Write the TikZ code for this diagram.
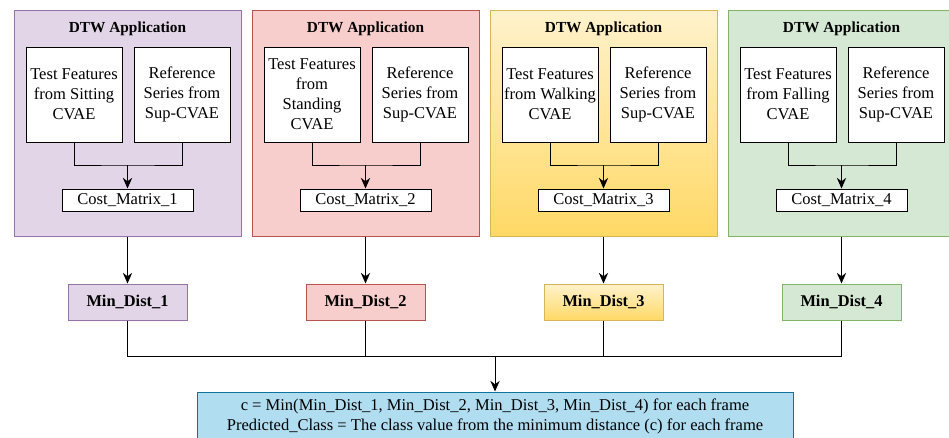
\documentclass[tikz,border=0pt]{standalone}
\usepackage{fontspec}
\setmainfont{Liberation Serif}
\usetikzlibrary{positioning,arrows.meta}
\definecolor{purpleFill}{HTML}{E1D5E7}
\definecolor{purpleLine}{HTML}{9673A6}
\definecolor{redFill}{HTML}{F8CECC}
\definecolor{redLine}{HTML}{B85450}
\definecolor{yellowTop}{HTML}{FFF2CC}
\definecolor{yellowBot}{HTML}{FFD966}
\definecolor{yellowLine}{HTML}{D6B656}
\definecolor{greenFill}{HTML}{D5E8D4}
\definecolor{greenLine}{HTML}{82B366}
\definecolor{blueFill}{HTML}{B1DDF0}
\definecolor{blueLine}{HTML}{10739E}
\tikzset{
 flow/.style={>={Stealth[length=8pt,width=7pt]},
   line width=0.75pt,
   x=0.75pt, y=-0.75pt},
 txt/.style={font=\fontsize{12.4}{15}\selectfont, align=center, inner sep=0pt},
 group/.style={rectangle, draw, line width=0.75pt, minimum width=170.25pt, minimum height=169.5pt},
 title/.style={txt, font=\fontsize{11.5}{14}\selectfont\bfseries},
 feature/.style={txt, rectangle, draw=black, fill=white, minimum width=72pt, minimum height=71.25pt},
 cost/.style={txt, rectangle, draw=black, fill=white, minimum width=98.25pt, minimum height=16.5pt},
 mindist/.style={txt, rectangle, draw, font=\fontsize{12.3}{15}\selectfont\bfseries, minimum width=89.25pt, minimum height=27pt},
 result/.style={txt, rectangle, draw=blueLine, fill=blueFill, minimum width=447pt, minimum height=36pt}}

\begin{document}
\begin{tikzpicture}[flow]
  \useasboundingbox (0,0) rectangle (949,437);
  \node[group, fill=purpleFill, draw=purpleLine] (g1) at (127.5,123) {};
  \node[group, fill=redFill, draw=redLine] (g2) at (365.5,123) {};
  \node[group, top color=yellowTop, bottom color=yellowBot, draw=yellowLine] (g3) at (603.5,123) {};
  \node[group, fill=greenFill, draw=greenLine] (g4) at (841.5,123) {};

  \node[title] (t1) at (127.5,29) {DTW Application};
  \node[title] (t2) at (365.5,29) {DTW Application};
  \node[title] (t3) at (603.5,29) {DTW Application};
  \node[title] (t4) at (841.5,29) {DTW Application};

  \node[feature] (tf1) at (74,94.5) {Test Features\\from Sitting\\CVAE};
  \node[feature] (rs1) [right=8.25pt of tf1] {Reference\\Series from\\Sup-CVAE};
  \node[feature] (tf2) at (312,94.5) {Test Features\\from\\Standing\\CVAE};
  \node[feature] (rs2) [right=8.25pt of tf2] {Reference\\Series from\\Sup-CVAE};
  \node[feature] (tf3) at (550,94.5) {Test Features\\from Walking\\CVAE};
  \node[feature] (rs3) [right=8.25pt of tf3] {Reference\\Series from\\Sup-CVAE};
  \node[feature] (tf4) at (788,94.5) {Test Features\\from Falling\\CVAE};
  \node[feature] (rs4) [right=8.25pt of tf4] {Reference\\Series from\\Sup-CVAE};

  \node[cost] (cm1) at (127.5,200) {Cost\_Matrix\_1};
  \node[cost] (cm2) at (365.5,200) {Cost\_Matrix\_2};
  \node[cost] (cm3) at (603.5,200) {Cost\_Matrix\_3};
  \node[cost] (cm4) at (841.5,200) {Cost\_Matrix\_4};

  \coordinate (j1) at (127.5,165);
  \coordinate (j2) at (365.5,165);
  \coordinate (j3) at (603.5,165);
  \coordinate (j4) at (841.5,165);
  \draw (tf1) |- (j1) -| (rs1);
  \draw (tf2) |- (j2) -| (rs2);
  \draw (tf3) |- (j3) -| (rs3);
  \draw (tf4) |- (j4) -| (rs4);
  \draw[->] (j1) -- (cm1);
  \draw[->] (j2) -- (cm2);
  \draw[->] (j3) -- (cm3);
  \draw[->] (j4) -- (cm4);

  \node[mindist, fill=purpleFill, draw=purpleLine] (md1) at (127.5,302) {Min\_Dist\_1};
  \node[mindist, fill=redFill, draw=redLine] (md2) at (365.5,302) {Min\_Dist\_2};
  \node[mindist, top color=yellowTop, bottom color=yellowBot, draw=yellowLine] (md3) at (603.5,302) {Min\_Dist\_3};
  \node[mindist, fill=greenFill, draw=greenLine] (md4) at (841.5,302) {Min\_Dist\_4};
  \draw[->] (g1) -- (md1);
  \draw[->] (g2) -- (md2);
  \draw[->] (g3) -- (md3);
  \draw[->] (g4) -- (md4);

  \node[result] (res) at (495,416) {c = Min(Min\_Dist\_1, Min\_Dist\_2, Min\_Dist\_3, Min\_Dist\_4) for each frame\\Predicted\_Class = The class value from the minimum distance (c) for each frame};
  \coordinate (bus) at (495,356);
  \draw (md1) |- (bus);
  \draw (md4) |- (bus);
  \draw (md2) -- (md2 |- bus);
  \draw (md3) -- (md3 |- bus);
  \draw[->] (bus) -- (res);
\end{tikzpicture}
\end{document}
